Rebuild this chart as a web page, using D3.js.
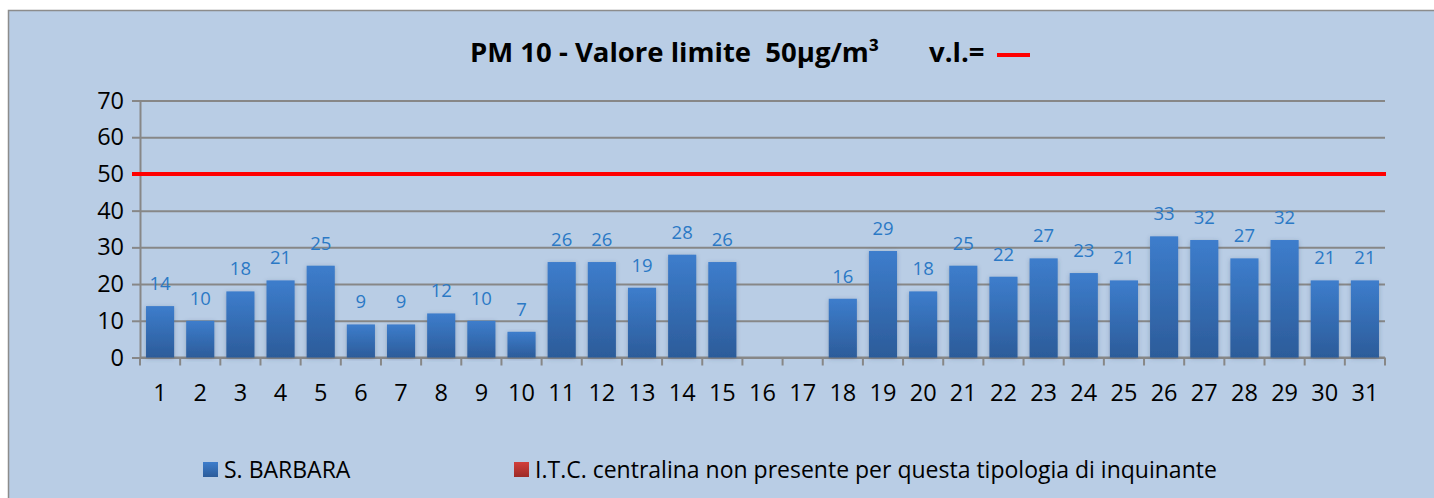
<!DOCTYPE html>
<html lang="it">
<head>
<meta charset="utf-8"/>
<title>PM 10 - S. Barbara</title>
<script src="https://d3js.org/d3.v7.min.js"></script>
<style>
  body { margin: 0; background: #fff; }
  svg { display: block; font-family: "Open Sans", sans-serif; }
</style>
</head>
<body>
<div id="chart"></div>

<script>
// --- data ---
const days = d3.range(1, 32).map(String)
const sBarbara = [14, 10, 18, 21, 25, 9, 9, 12, 10, 7, 26, 26, 19, 28, 26, null, null,
                  16, 29, 18, 25, 22, 27, 23, 21, 33, 32, 27, 32, 21, 21]
const yTicks = [0, 10, 20, 30, 40, 50, 60, 70]
const limitValue = 50
const titleText = "PM 10 - Valore limite  50\u00b5g/m\u00b3"
const legendNames = ["S. BARBARA", "I.T.C. centralina non presente per questa tipologia di inquinante"]

const W = 1434, H = 498
const m = { left: 140, right: 49, top: 100.5, bottom: 140.5 }

const svg = d3.select("#chart").append("svg")
  .attr("width", W).attr("height", H)

const defs = svg.append("defs")
const gBlue = defs.append("linearGradient").attr("id", "gBlue")
  .attr("x1", 0).attr("y1", 0).attr("x2", 0).attr("y2", 1)
gBlue.append("stop").attr("offset", "0%").attr("stop-color", "#3d7dcc")
gBlue.append("stop").attr("offset", "100%").attr("stop-color", "#2c5c9a")
const gRed = defs.append("linearGradient").attr("id", "gRed")
  .attr("x1", 0).attr("y1", 0).attr("x2", 0).attr("y2", 1)
gRed.append("stop").attr("offset", "0%").attr("stop-color", "#d23f3b")
gRed.append("stop").attr("offset", "100%").attr("stop-color", "#9c2a27")
const shadow = defs.append("filter").attr("id", "shadow")
  .attr("x", "-20%").attr("y", "-10%").attr("width", "140%").attr("height", "120%")
shadow.append("feDropShadow").attr("dx", 0).attr("dy", 1).attr("stdDeviation", 2)
  .attr("flood-color", "#3a5070").attr("flood-opacity", 0.35)

// chart area background + border (right and bottom edges fall outside the window)
svg.append("rect").attr("x", 8.5).attr("y", 10.5).attr("width", W).attr("height", H)
  .attr("fill", "#b9cde5").attr("stroke", "#8c8c8c").attr("stroke-width", 1.5)

const x = d3.scaleBand().domain(days).range([m.left, W - m.right]).paddingInner(0.3).paddingOuter(0.15)
const y = d3.scaleLinear().domain([0, 70]).range([H - m.bottom, m.top])

// gridlines
svg.append("g")
  .attr("transform", `translate(${m.left},0)`)
  .call(d3.axisLeft(y).tickValues(yTicks).tickSize(-(W - m.right - m.left)).tickFormat(""))
  .call(g => g.select(".domain").remove())
  .call(g => g.selectAll("line").attr("stroke", "#878787").attr("stroke-width", 2))

// y axis
svg.append("g")
  .attr("transform", `translate(${m.left},0)`)
  .call(d3.axisLeft(y).tickValues(yTicks).tickSize(8).tickPadding(8))
  .call(g => g.select(".domain").attr("stroke", "#878787").attr("stroke-width", 2))
  .call(g => g.selectAll("line").attr("stroke", "#878787").attr("stroke-width", 2))
  .call(g => g.selectAll("text").attr("font-size", 23.5).attr("fill", "#000")
    .attr("font-family", "'Open Sans', sans-serif"))

// x axis: ticks sit between categories
const step = x.step()
const xAxis = svg.append("g").attr("transform", `translate(0,${y(0)})`)
xAxis.append("line").attr("x1", m.left).attr("x2", W - m.right)
  .attr("stroke", "#878787").attr("stroke-width", 2)
xAxis.selectAll("line.tk").data(d3.range(days.length + 1)).join("line").attr("class", "tk")
  .attr("x1", i => m.left + i * step).attr("x2", i => m.left + i * step)
  .attr("y1", 0).attr("y2", 8).attr("stroke", "#878787").attr("stroke-width", 2)
xAxis.selectAll("text").data(days).join("text")
  .attr("x", d => x(d) + x.bandwidth() / 2).attr("y", 43)
  .attr("text-anchor", "middle").attr("font-size", 23.5).attr("fill", "#000")
  .text(d => d)

// bars
const barData = days.map((d, i) => ({ day: d, v: sBarbara[i] })).filter(d => d.v !== null)
svg.append("g").selectAll("rect").data(barData).join("rect")
  .attr("x", d => x(d.day)).attr("width", x.bandwidth())
  .attr("y", d => y(d.v)).attr("height", d => y(0) - y(d.v))
  .attr("fill", "url(#gBlue)").attr("filter", "url(#shadow)")

// data labels
svg.append("g").selectAll("text").data(barData).join("text")
  .attr("x", d => x(d.day) + x.bandwidth() / 2).attr("y", d => y(d.v) - 16)
  .attr("text-anchor", "middle").attr("font-size", 18.5).attr("fill", "#2b79c5")
  .text(d => d.v)

// limit line
svg.append("line")
  .attr("x1", m.left - 8).attr("x2", W - m.right + 1)
  .attr("y1", y(limitValue)).attr("y2", y(limitValue))
  .attr("stroke", "#ff0000").attr("stroke-width", 4)

// title
svg.append("text").attr("x", 470).attr("y", 62)
  .attr("font-size", 27.5).attr("font-weight", "bold").attr("fill", "#000")
  .style("white-space", "pre").text(titleText)
svg.append("text").attr("x", 929).attr("y", 62)
  .attr("font-size", 27.5).attr("font-weight", "bold").attr("fill", "#000").text("v.l.=")
svg.append("line").attr("x1", 997).attr("x2", 1030).attr("y1", 55).attr("y2", 55)
  .attr("stroke", "#ff0000").attr("stroke-width", 4)

// legend
const legX = [203, 514]
const legFill = ["url(#gBlue)", "url(#gRed)"]
const leg = svg.append("g").selectAll("g").data(legendNames).join("g")
  .attr("transform", (d, i) => `translate(${legX[i]},462)`)
leg.append("rect").attr("width", 15).attr("height", 15).attr("fill", (d, i) => legFill[i])
leg.append("text").attr("x", 21).attr("y", 16).attr("font-size", 23).attr("fill", "#000")
  .text(d => d)
</script>
</body>
</html>
